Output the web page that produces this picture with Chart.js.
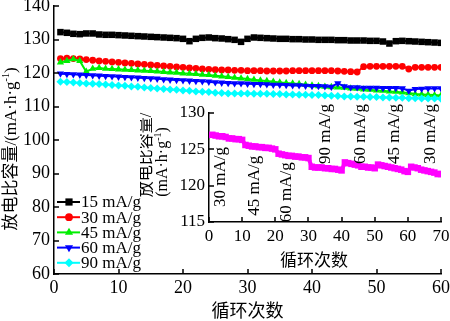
<!DOCTYPE html>
<html>
<head>
<meta charset="utf-8">
<script src="https://cdn.jsdelivr.net/npm/chart.js"></script>
<style>
  html, body { margin: 0; padding: 0; background: #fff; }
  #wrap { position: relative; width: 450px; height: 321px; }
  #mainChart { position: absolute; left: 0; top: 0; }
  #insetChart { position: absolute; left: 140px; top: 95px; }
</style>
</head>
<body>
<div id="wrap">
  <canvas id="mainChart" width="450" height="321" style="width:450px;height:321px"></canvas>
  <canvas id="insetChart" width="310" height="176" style="width:310px;height:176px"></canvas>
</div>
<script>
// cycle numbers
const cycles = Array.from({ length: 60 }, (_, i) => i + 1);
const insetCycles = Array.from({ length: 70 }, (_, i) => i + 1);

// discharge capacity (mA·h/g) for each current density
const cap15 = [
  132.2, 132.0, 131.7, 131.6, 131.8, 131.8, 131.5, 131.4, 131.4, 131.3,
  131.2, 131.1, 131.0, 130.9, 130.8, 130.7, 130.6, 130.5, 130.4, 130.2,
  129.5, 130.2, 130.5, 130.6, 130.4, 130.3, 130.1, 129.9, 129.3, 130.2,
  130.6, 130.5, 130.4, 130.3, 130.2, 130.2, 130.1, 130.1, 130.0, 130.0,
  129.9, 129.9, 129.9, 129.8, 129.8, 129.7, 129.7, 129.7, 129.6, 129.6,
  129.4, 128.8, 129.5, 129.6, 129.5, 129.4, 129.3, 129.2, 129.1, 129.0
];
const cap30 = [
  124.3, 124.4, 124.3, 124.2, 124.0, 123.8, 123.6, 123.5, 123.3, 123.2,
  123.0, 122.9, 122.7, 122.6, 122.4, 122.3, 122.1, 122.0, 121.8, 121.7,
  121.5, 121.4, 121.2, 121.1, 121.0, 120.9, 120.9, 120.8, 120.8, 120.7,
  120.7, 120.7, 120.6, 120.6, 120.6, 120.6, 120.7, 120.7, 120.7, 120.7,
  120.7, 120.7, 120.7, 120.6, 120.5, 120.4, 120.3, 121.9, 122.0, 122.0,
  122.0, 122.0, 122.0, 122.0, 121.2, 121.7, 121.7, 121.7, 121.7, 121.7
];
const cap45 = [
  123.2, 123.6, 124.1, 123.6, 120.4, 121.3, 121.5, 121.3, 121.2, 121.1,
  121.0, 120.9, 120.8, 120.7, 120.6, 120.5, 120.3, 120.2, 120.1, 119.9,
  119.8, 119.7, 119.5, 119.4, 119.2, 119.0, 118.8, 118.6, 118.4, 118.2,
  118.0, 117.8, 117.6, 117.4, 117.2, 117.0, 116.9, 116.7, 116.5, 116.3,
  116.1, 115.9, 115.8, 115.7, 115.6, 115.4, 115.3, 115.1, 115.0, 114.8,
  114.7, 114.5, 114.4, 114.2, 114.0, 113.7, 113.6, 113.5, 113.4, 113.3
];
const cap60 = [
  119.8, 119.7, 119.6, 119.5, 119.4, 119.3, 119.2, 119.1, 119.0, 118.9,
  118.8, 118.7, 118.6, 118.5, 118.4, 118.3, 118.1, 118.0, 117.9, 117.8,
  117.7, 117.6, 117.5, 117.4, 117.2, 117.1, 117.0, 116.9, 116.9, 116.8,
  116.7, 116.7, 116.6, 116.5, 116.5, 116.4, 116.3, 116.3, 116.2, 116.1,
  116.1, 116.0, 115.9, 116.9, 116.0, 115.7, 115.7, 115.6, 115.6, 115.6,
  115.5, 115.5, 115.5, 115.4, 114.7, 115.2, 115.3, 115.4, 115.4, 115.4
];
const cap90 = [
  117.4, 117.3, 117.2, 117.0, 116.9, 116.8, 116.7, 116.6, 116.4, 116.3,
  116.2, 116.0, 115.9, 115.7, 115.5, 115.4, 115.2, 115.1, 115.0, 114.8,
  114.7, 114.5, 114.4, 114.3, 114.1, 114.0, 113.9, 113.9, 113.9, 113.9,
  113.8, 113.8, 113.8, 113.7, 113.7, 113.6, 113.6, 113.5, 113.5, 113.4,
  113.4, 113.3, 113.2, 113.1, 113.0, 113.0, 112.9, 112.9, 112.8, 112.8,
  112.7, 112.7, 112.6, 112.6, 112.5, 112.5, 112.4, 112.4, 112.4, 112.3
];
// rate test (inset)
const capRate = [
  127.0, 126.9, 126.8, 126.8, 126.7, 126.5, 126.5, 126.4, 126.4, 126.3,
  125.6, 125.5, 125.4, 125.4, 125.3, 125.3, 125.2, 125.2, 125.1, 125.0,
  124.4, 124.3, 124.2, 124.1, 124.1, 124.0, 124.0, 123.9, 123.9, 123.8,
  122.6, 122.5, 122.5, 122.5, 122.4, 122.4, 122.3, 122.3, 122.2, 122.1,
  123.2, 123.1, 123.0, 122.9, 122.8, 122.6, 122.6, 122.5, 122.5, 122.4,
  122.9, 122.8, 122.7, 122.6, 122.5, 122.4, 122.3, 122.2, 122.0, 121.9,
  122.6, 122.5, 122.4, 122.2, 122.1, 122.0, 121.9, 121.8, 121.6, 121.6
];

const seriesNames = ['15 mA/g', '30 mA/g', '45 mA/g', '60 mA/g', '90 mA/g'];
const mainXTicks = [0, 10, 20, 30, 40, 50, 60];
const mainYTicks = [60, 70, 80, 90, 100, 110, 120, 130, 140];
const insetXTicks = [0, 10, 20, 30, 40, 50, 60, 70];
const insetYTicks = [115, 120, 125, 130];
const rateLabels = ['30 mA/g', '45 mA/g', '60 mA/g', '90 mA/g', '60 mA/g', '45 mA/g', '30 mA/g'];

const SERIF = '"Liberation Serif", "Noto Sans CJK SC", serif';

function pts(xs, ys) { return ys.map((v, i) => ({ x: xs[i], y: v })); }

function drawMarker(ctx, style, rot, r, x, y, color) {
  ctx.save();
  ctx.translate(x, y);
  ctx.rotate((rot || 0) * Math.PI / 180);
  ctx.fillStyle = color;
  ctx.beginPath();
  if (style === 'circle') {
    ctx.arc(0, 0, r, 0, Math.PI * 2);
  } else if (style === 'rect') {
    const s = r * Math.SQRT1_2;
    ctx.rect(-s, -s, 2 * s, 2 * s);
  } else if (style === 'rectRot') {
    ctx.moveTo(0, -r); ctx.lineTo(r, 0); ctx.lineTo(0, r); ctx.lineTo(-r, 0);
  } else {
    const a = Math.PI * 2 / 3;
    ctx.moveTo(0, -r);
    ctx.lineTo(Math.sin(a) * r, -Math.cos(a) * r);
    ctx.lineTo(-Math.sin(a) * r, -Math.cos(a) * r);
  }
  ctx.closePath();
  ctx.fill();
  ctx.restore();
}

// rotated (bottom-to-top) text, parts = [[text, isSuperscript]]
function drawRotated(ctx, cx, cy, parts, size) {
  ctx.save();
  ctx.translate(cx, cy);
  ctx.rotate(-Math.PI / 2);
  const base = size + 'px ' + SERIF;
  const sup = Math.round(size * 0.6) + 'px ' + SERIF;
  let total = 0;
  parts.forEach(p => { ctx.font = p[1] ? sup : base; total += ctx.measureText(p[0]).width; });
  let x = -total / 2;
  ctx.fillStyle = '#000';
  ctx.textAlign = 'left';
  ctx.textBaseline = 'middle';
  parts.forEach(p => {
    ctx.font = p[1] ? sup : base;
    ctx.fillText(p[0], x, p[1] ? -size * 0.32 : 0);
    x += ctx.measureText(p[0]).width;
  });
  ctx.restore();
}

const inwardTicks = {
  id: 'inwardTicks',
  afterDatasetsDraw(chart) {
    const ctx = chart.ctx, a = chart.chartArea, len = 5;
    const xs = chart.scales.x, ys = chart.scales.y;
    ctx.save();
    ctx.strokeStyle = '#000';
    ctx.lineWidth = 1.5;
    ctx.beginPath();
    xs.ticks.forEach(t => {
      const px = Math.round(xs.getPixelForValue(t.value));
      ctx.moveTo(px, a.bottom); ctx.lineTo(px, a.bottom - len);
    });
    ys.ticks.forEach(t => {
      const py = Math.round(ys.getPixelForValue(t.value));
      ctx.moveTo(a.left, py); ctx.lineTo(a.left + len, py);
    });
    ctx.stroke();
    ctx.restore();
  }
};

const mainExtras = {
  id: 'mainExtras',
  afterDraw(chart) {
    const ctx = chart.ctx;
    // y title
    drawRotated(ctx, 12, 149, [['放电比容量/(mA·h·g', false], ['-1', true], [')', false]], 17);
    // legend
    chart.data.datasets.forEach((ds, i) => {
      const y = 202 + i * 15.2;
      ctx.save();
      ctx.strokeStyle = ds.borderColor;
      ctx.lineWidth = 2;
      ctx.beginPath(); ctx.moveTo(57, y); ctx.lineTo(80, y); ctx.stroke();
      drawMarker(ctx, ds.pointStyle, ds.pointRotation, ds.pointRadius + 0.5, 69, y, ds.borderColor);
      ctx.fillStyle = '#000';
      ctx.font = '17px ' + SERIF;
      ctx.textAlign = 'left';
      ctx.textBaseline = 'middle';
      ctx.fillText(ds.label, 81, y + 1);
      ctx.restore();
    });
  }
};

const insetExtras = {
  id: 'insetExtras',
  afterDraw(chart) {
    const ctx = chart.ctx, xs = chart.scales.x, ys = chart.scales.y;
    drawRotated(ctx, 7, 60, [['放电比容量/', false]], 16);
    drawRotated(ctx, 23, 67, [['(mA·h·g', false], ['-1', true], [')', false]], 16);
    ctx.save();
    ctx.fillStyle = '#000';
    ctx.font = '17px "Noto Sans CJK SC", sans-serif';
    ctx.textAlign = 'center';
    ctx.textBaseline = 'middle';
    ctx.fillText('循环次数', 174, 165);
    ctx.restore();
    // current density labels for each block of 10 cycles
    const lx = [3.6, 13.7, 23.3, 35.3, 45.7, 56.1, 66.8];
    const ly = [121.2, 120.0, 119.1, 127.1, 127.1, 127.1, 127.1];
    rateLabels.forEach((t, i) => {
      drawRotated(ctx, xs.getPixelForValue(lx[i]), ys.getPixelForValue(ly[i]), [[t, false]], 17);
    });
  }
};

function axisCommon(size, pad) {
  return {
    grid: { display: false, drawTicks: false },
    border: { display: true, color: '#000', width: 1.5 },
    ticks: { color: '#000', font: { family: SERIF, size: size, lineHeight: 1 }, padding: pad, maxRotation: 0, autoSkip: false }
  };
}

const colors = ['#000000', '#ff0000', '#00ee00', '#0000ff', '#00ffff'];
const styles = ['rect', 'circle', 'triangle', 'triangle', 'rectRot'];
const rots = [0, 0, 0, 180, 0];
const radii = [4.6, 3.4, 4.2, 4.2, 4.0];
const values = [cap15, cap30, cap45, cap60, cap90];

new Chart(document.getElementById('mainChart'), {
  type: 'line',
  data: {
    datasets: values.map((v, i) => ({
      label: seriesNames[i],
      data: pts(cycles, v),
      borderColor: colors[i],
      backgroundColor: colors[i],
      borderWidth: 2,
      pointStyle: styles[i],
      pointRotation: rots[i],
      pointRadius: radii[i],
      pointBorderWidth: 0,
      order: 5 - i
    }))
  },
  options: {
    responsive: false,
    animation: false,
    events: [],
    layout: { padding: { top: 6, right: 9, left: 0, bottom: 0 } },
    plugins: { legend: { display: false }, tooltip: { enabled: false } },
    scales: {
      x: Object.assign(axisCommon(18, 5), {
        type: 'linear', min: 0, max: 60,
        afterBuildTicks: s => { s.ticks = mainXTicks.map(v => ({ value: v })); },
        afterFit: s => { s.height = 47; s.paddingLeft = 0; s.paddingRight = 0; },
        title: { display: true, text: '循环次数', color: '#000', padding: 0,
                 font: { family: '"Noto Sans CJK SC", sans-serif', size: 18 } }
      }),
      y: Object.assign(axisCommon(18, 4), {
        min: 60, max: 140,
        afterBuildTicks: s => { s.ticks = mainYTicks.map(v => ({ value: v })); },
        afterFit: s => { s.width = 54; s.paddingTop = 0; s.paddingBottom = 0; }
      })
    }
  },
  plugins: [inwardTicks, mainExtras]
});

new Chart(document.getElementById('insetChart'), {
  type: 'line',
  data: {
    datasets: [{
      label: 'rate',
      data: pts(insetCycles, capRate),
      borderColor: '#ff00ff',
      backgroundColor: '#ff00ff',
      borderWidth: 4,
      pointStyle: 'rect',
      pointRadius: 4.6,
      pointBorderWidth: 0
    }]
  },
  options: {
    responsive: false,
    animation: false,
    events: [],
    layout: { padding: { top: 18, right: 9, left: 0, bottom: 0 } },
    plugins: { legend: { display: false }, tooltip: { enabled: false } },
    scales: {
      x: Object.assign(axisCommon(17, 6), {
        type: 'linear', min: 0, max: 70,
        afterBuildTicks: s => { s.ticks = insetXTicks.map(v => ({ value: v })); },
        afterFit: s => { s.height = 49; s.paddingLeft = 0; s.paddingRight = 0; }
      }),
      y: Object.assign(axisCommon(17, 4), {
        min: 115, max: 130,
        afterBuildTicks: s => { s.ticks = insetYTicks.map(v => ({ value: v })); },
        afterFit: s => { s.width = 69; s.paddingTop = 0; s.paddingBottom = 0; }
      })
    }
  },
  plugins: [inwardTicks, insetExtras]
});
</script>
</body>
</html>
